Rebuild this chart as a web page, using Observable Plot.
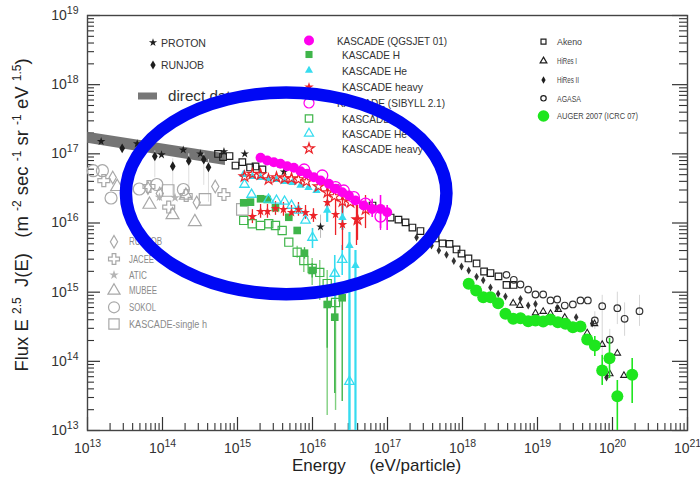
<!DOCTYPE html>
<html>
<head>
<meta charset="utf-8">
<script src="https://cdn.jsdelivr.net/npm/d3@7"></script>
<script src="https://cdn.jsdelivr.net/npm/@observablehq/plot@0.6"></script>
<style>
  body { margin: 0; background: #fff; }
  #chart svg { display: block; }
</style>
</head>
<body>
<div id="chart"></div>
<script>
// Cosmic-ray all-particle and elemental spectra, flux scaled by E^2.5.
// Each point: [energy (eV), flux (m^-2 s^-1 sr^-1 eV^1.5)]; error rows: [energy, high, low].

const xDecades = [1e13, 1e14, 1e15, 1e16, 1e17, 1e18, 1e19, 1e20, 1e21];
const yDecades = [1e13, 1e14, 1e15, 1e16, 1e17, 1e18, 1e19];

// direct measurements band: [energy, lower, upper]
const directBand = [[1e13, 1.42e17, 2.05e17], [6.9e14, 6.8e16, 1.0e17]];

const proton = [[1.52e13, 1.51e17], [4.6e13, 1.40e17], [9.7e13, 9.7e16], [1.89e14, 1.14e17], [3.2e14, 1.0e17],
  [6.6e14, 1.08e17], [1.25e15, 1.0e17], [4.17e15, 5.5e16], [1.28e16, 8.8e15]];
const protonErr = [[1.28e16, 1.3e16, 6e15]];
const runjobAll = [[2.9e13, 1.2e17], [7.9e13, 9.2e16], [1.37e14, 6.6e16], [2.24e14, 7.9e16], [3.55e14, 8.3e16], [4.1e14, 6.4e16]];
const runjobAllErr = [[7.9e13, 1.1e17, 4.5e16], [1.37e14, 8.5e16, 2.5e16], [2.24e14, 1.0e17, 3.0e16], [3.55e14, 1.05e17, 3.5e16], [4.1e14, 8.3e16, 2.0e16]];

// single-element direct data (grey)
const runjobH = [[2.17e13, 4.55e16], [6.4e13, 3.2e16], [9.2e13, 2.67e16], [2.86e14, 1.98e16], [5.05e14, 3.37e16]];
const jacee = [[1.65e13, 4.1e16], [6.6e13, 3.37e16], [1.21e14, 1.7e16], [2.07e14, 2.5e16], [6.6e14, 2.58e16]];
const atic = [[9.1e13, 2.36e16], [1.47e14, 2.32e16]];
const mubee = [[2.49e13, 3.34e16], [6.7e13, 1.85e16], [1.36e14, 1.31e16], [2.05e14, 2.5e16], [2.7e14, 1.04e16]];
const sokol = [[1.19e13, 5.7e16], [1.58e13, 5.7e16], [2.06e13, 2.3e16], [4.9e13, 3.1e16], [8.4e13, 3.6e16], [1.9e14, 3.05e16]];
const kascadeSingleH = [[1.19e14, 2.95e16], [3.69e14, 2.19e16], [1.16e15, 1.57e16]];

// KASCADE unfolding with QGSJET 01
const kasQgsjet = [[2.03e15, 8.77e16], [2.49e15, 8.0e16], [3.05e15, 7.57e16], [3.74e15, 7.18e16], [4.6e15, 6.62e16],
  [5.64e15, 6.28e16], [6.92e15, 5.61e16], [8.5e15, 5.14e16], [1.04e16, 4.59e16], [1.28e16, 4.12e16], [1.65e16, 3.69e16],
  [2.03e16, 3.12e16], [2.49e16, 2.79e16], [3.05e16, 2.5e16], [3.74e16, 2.12e16], [4.83e16, 1.79e16], [6.25e16, 1.6e16],
  [8.07e16, 1.6e16], [9.9e16, 1.43e16]];
const kasQgsjetErr = [[6.25e16, 2.2e16, 1.2e16], [8.07e16, 2.5e16, 8.3e15], [9.9e16, 1.79e16, 7.8e15]];
const kasH = [[1.21e15, 1.96e16], [1.49e15, 2.0e16], [2.03e15, 2.24e16], [2.49e15, 2.19e16], [3.21e15, 1.66e16],
  [4.83e15, 1.21e16], [6.25e15, 7.8e15], [7.82e15, 3.66e15], [9.9e15, 2.06e15], [1.57e16, 6.64e14], [1.98e16, 4.35e14], [2.49e16, 8.3e14]];
const kasHErr = [[7.82e15, 4.4e15, 3.0e15], [9.9e15, 2.6e15, 1.6e15], [1.57e16, 1.06e15, 1.54e14], [1.98e16, 7.6e14, 3.43e13], [2.49e16, 1.25e15, 2.63e13]];
const kasHe = [[1.2e15, 5.02e16], [1.58e15, 4.7e16], [2.03e15, 4.55e16], [2.59e15, 4.4e16], [3.31e15, 4.26e16], [4.24e15, 3.98e16],
  [5.41e15, 3.85e16], [6.92e15, 3.49e16], [8.85e15, 3.26e16], [1.13e16, 2.95e16], [1.57e16, 1.52e16], [2.51e16, 1.2e16],
  [3.11e16, 4.73e15], [3.74e16, 2.43e15]];
const kasHeErr = [[1.57e16, 2.12e16, 1.02e16], [2.51e16, 1.79e16, 7.8e15], [3.11e16, 7.3e15, 1e13], [3.74e16, 4.0e15, 1e13]];
const kasHeavy = [[1.58e15, 1.24e16], [2.03e15, 1.47e16], [2.51e15, 1.47e16], [3.21e15, 1.62e16], [4.1e15, 1.57e16], [5.25e15, 1.42e16],
  [6.5e15, 1.57e16], [8.07e15, 1.42e16], [1.03e16, 1.28e16], [1.58e16, 1.98e16], [2.03e16, 1.33e16], [2.51e16, 9.5e15], [3.86e16, 1.12e16]];
const kasHeavyErr = [[1.58e15, 1.56e16, 9.8e15], [2.03e15, 1.85e16, 1.17e16], [2.51e15, 1.85e16, 1.17e16], [3.21e15, 2.04e16, 1.29e16],
  [4.1e15, 1.98e16, 1.25e16], [5.25e15, 1.79e16, 1.13e16], [6.5e15, 1.98e16, 1.25e16], [8.07e15, 1.79e16, 1.13e16],
  [1.03e16, 1.61e16, 1.02e16], [1.58e16, 2.95e16, 1.42e16], [2.03e16, 2.12e16, 6.6e15], [2.51e16, 1.79e16, 4.0e15], [3.86e16, 1.79e16, 4.73e15]];

// KASCADE unfolding with SIBYLL 2.1
const kasSibyll = [[7.74e15, 5.94e16], [1.35e16, 4.86e16], [2.03e16, 3.3e16], [2.61e16, 2.95e16], [3.56e16, 2.36e16], [5.09e16, 1.91e16], [8.07e16, 1.24e16]];
const kasSibyllErr = [[5.09e16, 2.3e16, 1.5e16], [8.07e16, 1.7e16, 7.8e15]];
const kasHS = [[1.21e15, 1.09e16], [1.57e15, 9.75e15], [2.03e15, 9.2e15], [2.61e15, 9.75e15], [3.21e15, 9.2e15], [3.94e15, 7.8e15],
  [4.83e15, 5.28e15], [6.25e15, 3.78e15], [7.66e15, 2.87e15], [9.9e15, 2.2e15], [1.25e16, 1.93e15], [1.57e16, 1.33e15], [2.03e16, 7.1e14]];
const kasHSErr = [[6.25e15, 4.6e15, 3.1e15], [7.66e15, 4.0e15, 1.93e15], [9.9e15, 3.07e15, 1.25e15], [1.25e16, 2.87e15, 7.6e14],
  [1.57e16, 2.06e15, 1.65e13], [2.03e16, 1.25e15, 1.95e13]];
const kasHeS = [[1.24e15, 3.6e16], [1.54e15, 2.58e16], [2.59e15, 2.19e16], [3.31e15, 2.12e16], [4.24e15, 2.05e16], [5.25e15, 1.79e16],
  [6.5e15, 1.52e16], [8.07e15, 1.09e16], [1.0e16, 6.17e15], [1.98e16, 1.86e15], [2.49e16, 2.96e15], [3.11e16, 5.1e13]];
const kasHeSErr = [[1.0e16, 8.34e15, 4.28e15], [1.98e16, 3.39e15, 7.6e14], [2.49e16, 4.73e15, 1.74e15], [3.11e16, 7.6e14, 1e13]];
const kasHeavyS = [[1.24e15, 4.7e16], [1.58e15, 5.11e16], [2.03e15, 5.02e16], [2.59e15, 4.26e16], [3.31e15, 4.55e16], [4.24e15, 4.4e16],
  [5.25e15, 4.4e16], [6.5e15, 4.26e16], [8.32e15, 3.98e16], [1.2e16, 3.37e16], [1.58e16, 2.76e16], [1.96e16, 2.42e16],
  [2.51e16, 2.05e16], [3.21e16, 1.98e16], [3.98e16, 1.12e16], [5.09e16, 1.57e16]];
const kasHeavySErr = [[2.51e16, 2.76e16, 1.42e16], [3.98e16, 1.79e16, 5.6e15], [5.09e16, 2.5e16, 8.3e15]];

// air-shower arrays
const akeno = [[5.5e14, 9.95e16], [6.41e14, 9.0e16], [7.82e14, 9.3e16], [9.4e14, 6.78e16], [1.16e15, 7.57e16], [1.47e15, 6.35e16],
  [1.74e15, 6.57e16], [2.15e15, 5.94e16], [2.03e16, 3.16e16], [6.31e16, 1.79e16], [1.1e17, 1.2e16], [1.4e17, 1.12e16],
  [1.74e17, 1.02e16], [2.15e17, 8.6e15], [2.75e17, 7.66e15], [4.37e17, 5.97e15], [5.41e17, 5.06e15], [6.71e17, 4.98e15],
  [8.32e17, 4.14e15], [9.7e17, 3.62e15], [1.2e18, 3.07e15], [1.54e18, 2.6e15], [1.94e18, 1.99e15], [2.36e18, 1.89e15],
  [3.02e18, 1.69e15], [3.86e18, 1.27e15], [4.79e18, 1.27e15]];
const hiresI = [[4.74e18, 6.93e14], [5.81e18, 6.41e14], [9.4e18, 5.0e14], [1.19e19, 5.26e14], [1.49e19, 4.92e14], [1.89e19, 5.62e14],
  [2.31e19, 4.31e14], [4.6e19, 2.57e14], [5.75e19, 3.49e14], [7.29e19, 1.75e14], [9.2e19, 6.6e13], [1.16e20, 1.31e14], [1.42e20, 6.24e13]];
const hiresII = [[2.44e17, 6.17e15], [3.86e17, 4.73e15], [4.83e17, 4.0e15], [6.12e17, 3.47e15], [7.66e17, 2.82e15], [9.7e17, 2.35e15],
  [1.21e18, 2.06e15], [1.54e18, 1.67e15], [1.89e18, 1.49e15], [2.36e18, 1.17e15], [2.99e18, 9.5e14], [3.74e18, 8.67e14],
  [5.93e18, 8.0e14], [7.52e18, 6.41e14], [9.4e18, 6.74e14], [1.83e19, 5.94e14], [3.28e19, 4.35e14], [5.36e19, 3.52e14], [8.32e19, 5.85e13]];
const agasa = [[3.86e18, 1.78e15], [4.83e18, 1.51e15], [5.93e18, 1.29e15], [7.52e18, 1.09e15], [9.4e18, 9.25e14], [1.19e19, 9.25e14],
  [1.49e19, 7.59e14], [1.83e19, 7.84e14], [2.31e19, 6.41e14], [2.96e19, 6.64e14], [3.74e19, 7.59e14], [4.69e19, 7.59e14],
  [5.81e19, 3.9e14], [7.29e19, 6.27e14], [9.2e19, 2.05e14], [1.16e20, 5.86e14], [1.45e20, 4.12e14], [2.29e20, 5.31e14]];
const agasaErr = [[5.81e19, 5.2e14, 2.9e14], [9.2e19, 2.9e14, 1.4e14], [1.16e20, 1.0e15, 3.4e14], [1.45e20, 7.0e14, 2.3e14], [2.29e20, 9.0e14, 3.2e14],
  [7.29e19, 9.0e14, 1.0e14]];
const auger = [[1.21e18, 1.32e15], [1.52e18, 1.06e15], [1.89e18, 8.45e14], [2.36e18, 8.45e14], [2.99e18, 6.93e14], [3.74e18, 4.87e14],
  [4.74e18, 4.12e14], [5.93e18, 4.21e14], [7.52e18, 3.8e14], [9.4e18, 3.9e14], [1.19e19, 3.77e14], [1.49e19, 4.03e14],
  [1.87e19, 3.68e14], [2.36e19, 3.49e14], [2.96e19, 3.12e14], [3.74e19, 3.19e14], [4.6e19, 2.07e14], [5.81e19, 1.69e14],
  [7.29e19, 7.38e13], [9.12e19, 1.11e14], [1.16e20, 3.13e13], [1.83e20, 6.4e13]];
const augerErr = [[5.81e19, 2.29e14, 1.17e14], [7.29e19, 1.22e14, 4.48e13], [9.12e19, 2.14e14, 5.65e13], [1.16e20, 5.28e13, 1e13], [1.83e20, 1.1e14, 2.46e13]];

// legend texts
const legendTopLeft = ["PROTON", "RUNJOB", "direct data"];
const legendKascade = ["KASCADE (QGSJET 01)", "KASCADE H", "KASCADE He", "KASCADE heavy",
  "KASCADE (SIBYLL 2.1)", "KASCADE H", "KASCADE He", "KASCADE heavy"];
const legendArrays = ["Akeno", "HiRes I", "HiRes II", "AGASA", "AUGER 2007 (ICRC 07)"];
const legendDirect = ["RUNJOB", "JACEE", "ATIC", "MUBEE", "SOKOL", "KASCADE-single h"];

const sp = "\u00a0";
const xLabel = `Energy${sp.repeat(5)}(eV/particle)`;
const yLabel = `Flux E${sp}^{2.5}${sp.repeat(2)}J(E)${sp.repeat(3)}(m${sp}^{-2}${sp}sec${sp}^{-1}${sp}sr${sp}^{-1}${sp}eV${sp}^{1.5})`;

// highlight ellipse, bounding box in data units
const highlight = {energy: [3.3e13, 6.2e17], flux: [9.2e14, 7.6e17]};

const FONT = "'Liberation Sans', Arial, Helvetica, sans-serif";
const C = {
  magenta: "#ff00ee", green: "#3fb54a", greenLight: "#7fcf7f", cyan: "#36dcef", red: "#ec2228",
  auger: "#1ee61e", grey: "#a8a8a8", dark: "#1e1e1e"
};

const X = d => d[0], Y = d => d[1];
const dots = (data, o) => Plot.dot(data, {x: X, y: Y, ...o});
const bars = (data, stroke, o = {}) => Plot.ruleX(data, {x: X, y1: d => d[1], y2: d => d[2], stroke, strokeWidth: 1.4, ...o});

const symbolTypes = {
  circle: d3.symbolCircle, square: d3.symbolSquare, triangle: d3.symbolTriangle,
  star: d3.symbolStar, diamond: d3.symbolDiamond, cross: d3.symbolCross
};

// legend drawn in frame pixel layout
function legend(rows, {sx, tx, ys, fontSize, color}) {
  return () => {
    const g = d3.create("svg:g").attr("font-family", FONT).attr("text-anchor", "start");
    rows.forEach((row, i) => {
      const cy = ys[i];
      if (row.symbol === "band") {
        g.append("rect").attr("x", sx - 15).attr("y", cy - 3.5).attr("width", 19).attr("height", 7).attr("fill", "#777");
      } else {
        g.append("path")
          .attr("transform", `translate(${sx},${cy})`)
          .attr("d", d3.symbol(symbolTypes[row.symbol], Math.PI * row.r * row.r)())
          .attr("fill", row.fill || "none")
          .attr("stroke", row.stroke || "none")
          .attr("stroke-width", row.sw || 1.2);
      }
      const t = g.append("text")
        .attr("x", row.tx ?? tx).attr("y", cy).attr("dy", "0.36em")
        .attr("text-anchor", "start")
        .attr("font-size", row.fontSize || fontSize).attr("fill", color)
        .text(row.label);
      if (row.w) t.attr("textLength", row.w).attr("lengthAdjust", "spacingAndGlyphs");
    });
    return g.node();
  };
}

function ellipseMark(index, scales) {
  const x0 = scales.x(highlight.energy[0]), x1 = scales.x(highlight.energy[1]);
  const y0 = scales.y(highlight.flux[0]), y1 = scales.y(highlight.flux[1]);
  return d3.create("svg:ellipse")
    .attr("cx", (x0 + x1) / 2).attr("cy", (y0 + y1) / 2)
    .attr("rx", Math.abs(x1 - x0) / 2).attr("ry", Math.abs(y1 - y0) / 2)
    .attr("fill", "none").attr("stroke", "#0008f5").attr("stroke-width", 12.5)
    .node();
}

const minor = decades => decades.slice(0, -1).flatMap(d => [2, 3, 4, 5, 6, 7, 8, 9].map(k => k * d));
const supFormat = d => `10^{${Math.round(Math.log10(d))}}`;

const chart = Plot.plot({
  width: 700, height: 486,
  marginLeft: 87, marginRight: 13, marginTop: 15, marginBottom: 56,
  style: {fontFamily: FONT, background: "#fff", color: "#222", overflow: "visible"},
  x: {type: "log", domain: [1e13, 1e21]},
  y: {type: "log", domain: [1e13, 1e19]},
  marks: [
    // inward ticks on bottom, left and right
    Plot.tickX(xDecades, {x: d => d, insetTop: 402, stroke: "#333", strokeWidth: 1.2}),
    Plot.tickX(minor(xDecades), {x: d => d, insetTop: 408, stroke: "#333", strokeWidth: 1.1}),
    Plot.tickY(yDecades, {y: d => d, insetRight: 587, stroke: "#333", strokeWidth: 1.2}),
    Plot.tickY(minor(yDecades), {y: d => d, insetRight: 593, stroke: "#333", strokeWidth: 1.1}),
    Plot.tickY(yDecades, {y: d => d, insetLeft: 585, stroke: "#333", strokeWidth: 1.2}),
    Plot.tickY(minor(yDecades), {y: d => d, insetLeft: 592, stroke: "#333", strokeWidth: 1.1}),
    Plot.frame({stroke: "#444", strokeWidth: 1.4}),
    Plot.axisX(xDecades, {tickSize: 0, tickPadding: 13, tickFormat: supFormat, fontSize: 14, fill: "#333"}),
    Plot.axisY(yDecades, {tickSize: 0, tickPadding: 9, tickFormat: supFormat, fontSize: 14, fill: "#333"}),
    Plot.text([xLabel], {frameAnchor: "bottom", textAnchor: "middle", text: d => d, dx: -11, dy: 40, fontSize: 17, fill: "#222"}),
    Plot.text([yLabel], {frameAnchor: "left", textAnchor: "middle", text: d => d, dx: -65, dy: -8, rotate: -90, fontSize: 18.5, fill: "#222"}),

    // direct data band
    Plot.areaY(directBand, {x: d => d[0], y1: d => d[1], y2: d => d[2], fill: "#6e6e6e", fillOpacity: 0.95}),

    // faint error bars
    bars(runjobAllErr, "#dedede", {strokeWidth: 1}),
    bars(protonErr, "#bbbbbb", {strokeWidth: 1}),
    bars(agasaErr, "#d6d6d6", {strokeWidth: 1}),

    // grey direct single-element data
    dots(sokol, {symbol: "circle", r: 6, stroke: C.grey, strokeWidth: 1.2}),
    dots(jacee, {symbol: "cross", r: 5, stroke: C.grey, strokeWidth: 1.2}),
    dots(runjobH, {symbol: "diamond", r: 3.8, stroke: C.grey, strokeWidth: 1.2}),
    dots(atic, {symbol: "star", r: 3, fill: "#b5b5b5"}),
    dots(mubee, {symbol: "triangle", r: 4.8, stroke: C.grey, strokeWidth: 1.2}),
    dots(kascadeSingleH, {symbol: "square", r: 6.5, stroke: C.grey, strokeWidth: 1.2}),

    // all-particle direct and air-shower data
    dots(proton, {symbol: "star", r: 2.7, fill: C.dark}),
    dots(runjobAll, {symbol: "diamond", r: 3, fill: C.dark}),
    dots(akeno, {symbol: "square", r: 3.7, stroke: C.dark, strokeWidth: 1.2}),
    dots(hiresII, {symbol: "diamond", r: 2.4, fill: "#333"}),
    dots(hiresI, {symbol: "triangle", r: 2.4, stroke: C.dark, strokeWidth: 1.1}),
    dots(agasa, {symbol: "circle", r: 3.3, stroke: "#333", strokeWidth: 1.2}),

    // KASCADE error bars
    bars(kasHSErr, C.greenLight),
    bars(kasHErr, C.green),
    bars(kasHeErr, C.cyan, {strokeWidth: 2.2}),
    bars(kasHeSErr, C.cyan, {strokeWidth: 1.6}),
    bars(kasHeavyErr, C.red, {strokeWidth: 1.3}),
    bars(kasHeavySErr, C.red, {strokeWidth: 1.3}),
    bars(kasQgsjetErr, C.magenta, {strokeWidth: 1.6}),
    bars(kasSibyllErr, C.magenta, {strokeWidth: 1.3}),

    // KASCADE spectra
    dots(kasHS, {symbol: "square", r: 4.6, stroke: C.green, strokeWidth: 1.2}),
    dots(kasH, {symbol: "square", r: 4.3, fill: C.green}),
    dots(kasHeS, {symbol: "triangle", r: 3.5, stroke: C.cyan, strokeWidth: 1.3}),
    dots(kasHe, {symbol: "triangle", r: 3.1, fill: C.cyan}),
    dots(kasHeavyS, {symbol: "star", r: 3.3, stroke: C.red, strokeWidth: 1.2}),
    dots(kasHeavy, {symbol: "star", r: 3, fill: C.red}),
    dots(kasQgsjet, {symbol: "circle", r: 5, fill: C.magenta}),
    dots(kasSibyll, {symbol: "circle", r: 5.5, stroke: C.magenta, strokeWidth: 1.3}),

    // AUGER
    bars(augerErr, C.auger, {strokeWidth: 1.6}),
    dots(auger, {symbol: "circle", r: 6, fill: C.auger}),

    // legends
    legend([
      {label: legendTopLeft[0], symbol: "star", r: 2.6, fill: C.dark, w: 45},
      {label: legendTopLeft[1], symbol: "diamond", r: 2.8, fill: C.dark, w: 43},
      {label: legendTopLeft[2], symbol: "band", tx: 168, fontSize: 15, w: 71}
    ], {sx: 153, tx: 161, ys: [42.5, 65, 96], fontSize: 11.5, color: "#333"}),
    legend([
      {label: legendKascade[0], symbol: "circle", r: 5, fill: C.magenta, tx: 337, w: 110},
      {label: legendKascade[1], symbol: "square", r: 4, fill: C.green, w: 58},
      {label: legendKascade[2], symbol: "triangle", r: 3, fill: C.cyan, w: 65},
      {label: legendKascade[3], symbol: "star", r: 3, fill: C.red, w: 81},
      {label: legendKascade[4], symbol: "circle", r: 5, stroke: C.magenta, tx: 337, w: 108},
      {label: legendKascade[5], symbol: "square", r: 4.2, stroke: C.green, w: 58},
      {label: legendKascade[6], symbol: "triangle", r: 3.4, stroke: C.cyan, w: 65},
      {label: legendKascade[7], symbol: "star", r: 3.3, stroke: C.red, w: 81}
    ], {sx: 309, tx: 342, ys: [40.5, 54.5, 70.5, 87, 103, 118.5, 133.5, 148.5], fontSize: 11.5, color: "#333"}),
    legend([
      {label: legendArrays[0], symbol: "square", r: 2.8, stroke: C.dark, w: 25},
      {label: legendArrays[1], symbol: "triangle", r: 2.5, stroke: C.dark, w: 20},
      {label: legendArrays[2], symbol: "diamond", r: 2.2, fill: C.dark, w: 22},
      {label: legendArrays[3], symbol: "circle", r: 2.7, stroke: C.dark, w: 24},
      {label: legendArrays[4], symbol: "circle", r: 5.8, fill: C.auger, w: 81}
    ], {sx: 543.5, tx: 557, ys: [41.7, 61, 80, 98.3, 116], fontSize: 9.5, color: "#444"}),
    legend([
      {label: legendDirect[0], symbol: "diamond", r: 3.8, stroke: C.grey, w: 33},
      {label: legendDirect[1], symbol: "cross", r: 4.6, stroke: C.grey, w: 25},
      {label: legendDirect[2], symbol: "star", r: 3, fill: "#b5b5b5", w: 18},
      {label: legendDirect[3], symbol: "triangle", r: 4.5, stroke: C.grey, w: 28},
      {label: legendDirect[4], symbol: "circle", r: 5.5, stroke: C.grey, w: 27},
      {label: legendDirect[5], symbol: "square", r: 5.8, stroke: C.grey, w: 78}
    ], {sx: 114, tx: 129, ys: [241.7, 259, 275, 290.7, 307.3, 324], fontSize: 10, color: "#8a8a8a"}),

    // highlight
    ellipseMark
  ]
});

// turn "^{...}" runs into raised, smaller tspans
function superscripts(el, size, shift) {
  const parts = el.textContent.split(/\^\{([^}]*)\}/);
  el.textContent = "";
  let raised = false;
  parts.forEach((p, i) => {
    if (!p) return;
    const t = document.createElementNS("http://www.w3.org/2000/svg", "tspan");
    t.textContent = p;
    if (i % 2) {
      t.setAttribute("font-size", size);
      t.setAttribute("dy", -shift);
      raised = true;
    } else if (raised) {
      t.setAttribute("dy", shift);
      raised = false;
    }
    el.appendChild(t);
  });
}
chart.querySelectorAll("text").forEach(el => {
  if (!el.textContent.includes("^{")) return;
  if (el.textContent.startsWith("Flux")) superscripts(el, 12, 7);
  else superscripts(el, 10.5, 6);
});

document.getElementById("chart").append(chart);
</script>
</body>
</html>
